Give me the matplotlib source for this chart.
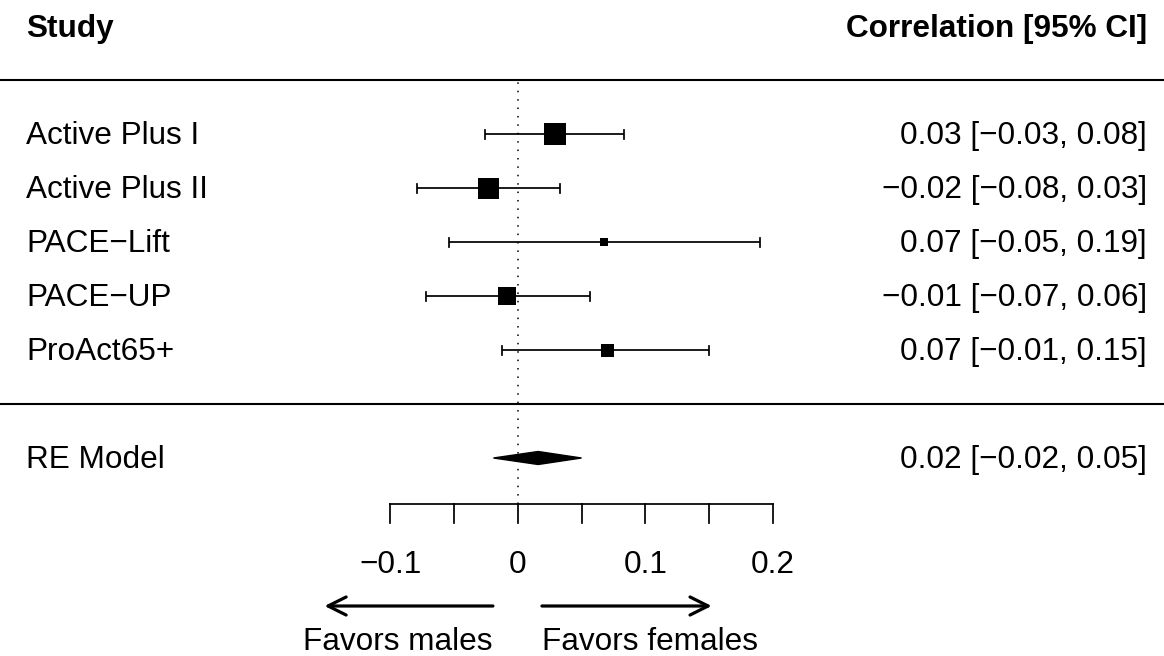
import matplotlib
matplotlib.use("Agg")
import matplotlib.pyplot as plt
from matplotlib.patches import Polygon

plt.rcParams['font.family'] = ['Liberation Sans', 'DejaVu Sans']

# ---- data ----
studies = ["Active Plus I", "Active Plus II", "PACE\u2212Lift", "PACE\u2212UP", "ProAct65+"]
estimates = [0.029, -0.023, 0.068, -0.008, 0.070]
ci_lower = [-0.026, -0.079, -0.054, -0.072, -0.012]
ci_upper = [0.083, 0.033, 0.190, 0.057, 0.150]
re_label = "RE Model"
re_est = 0.016
re_lower = -0.019
re_upper = 0.050
tick_values = [-0.1, -0.05, 0.0, 0.05, 0.1, 0.15, 0.2]
tick_labels = ["\u22120.1", "", "0", "", "0.1", "", "0.2"]
header_left = "Study"
header_right = "Correlation [95% CI]"
arrow_left_text = "Favors males"
arrow_right_text = "Favors females"

# ---- styles ----
marker_px = [22, 21, 8, 18, 13]
W, H, DPI = 1164, 656, 100
FS = 22.7
LW = 1.25

def fmt(v):
    s = f"{v:.2f}"
    return s.replace("-", "\u2212")

fig = plt.figure(figsize=(W / DPI, H / DPI), dpi=DPI)
ax = fig.add_axes([0, 0, 1, 1])
ax.set_axis_off()
px_per_unit = 1276.0
x0px = 517.7
ax.set_xlim(-x0px / px_per_unit, (W - x0px) / px_per_unit)
row_px = 54.0
ax.set_ylim((404 - H) / row_px, 404 / row_px)

k = len(studies)
rows = list(range(k, 0, -1))
xl, xr = ax.get_xlim()
text_left = xl + 26 / px_per_unit
text_right = xr - 17 / px_per_unit
bl = 10.0 / row_px   # baseline offset below row centre

# horizontal rules
ax.axhline(k + 1, color="black", lw=1.5)
ax.axhline(0, color="black", lw=1.5)

# reference line
axis_y = -1.852
ax.plot([0, 0], [axis_y, k + 1], color="black", lw=1.1, linestyle=(0, (1, 4.5)))

cap = 4.5 / row_px
for r, name, e, lo, hi, m in zip(rows, studies, estimates, ci_lower, ci_upper, marker_px):
    ax.plot([lo, hi], [r, r], color="black", lw=LW, solid_capstyle="butt")
    ax.plot([lo, lo], [r - cap, r + cap], color="black", lw=LW)
    ax.plot([hi, hi], [r - cap, r + cap], color="black", lw=LW)
    ax.plot([e], [r], marker="s", markersize=m * 72 / DPI, color="black", markeredgewidth=0)
    ax.text(text_left, r - bl, name, ha="left", va="baseline", fontsize=FS)
    ax.text(text_right, r - bl, f"{fmt(e)} [{fmt(lo)}, {fmt(hi)}]", ha="right", va="baseline", fontsize=FS)

# summary diamond
re_row = -1
dh = 6.5 / row_px
ax.add_patch(Polygon([[re_lower, re_row], [re_est, re_row + dh], [re_upper, re_row], [re_est, re_row - dh]],
                     closed=True, facecolor="black", edgecolor="black", lw=1))
ax.text(text_left, re_row - bl, re_label, ha="left", va="baseline", fontsize=FS)
ax.text(text_right, re_row - bl, f"{fmt(re_est)} [{fmt(re_lower)}, {fmt(re_upper)}]",
        ha="right", va="baseline", fontsize=FS)

# headers
hb = 11.0 / row_px
ax.text(text_left, k + 2 - hb, header_left, ha="left", va="baseline", fontsize=FS, fontweight="bold")
ax.text(text_right, k + 2 - hb, header_right, ha="right", va="baseline", fontsize=FS, fontweight="bold")

# x axis
ax.plot([tick_values[0], tick_values[-1]], [axis_y, axis_y], color="black", lw=LW)
tick_len = 19 / row_px
tick_base = (404 - 573) / row_px
for tv, tl in zip(tick_values, tick_labels):
    ax.plot([tv, tv], [axis_y, axis_y - tick_len], color="black", lw=LW)
    if tl:
        ax.text(tv, tick_base, tl, ha="center", va="baseline", fontsize=FS)

# arrows
arrow_y = (404 - 606) / row_px
aprops = dict(arrowstyle="->,head_length=1.3,head_width=0.65", lw=2.3, color="black",
              shrinkA=0, shrinkB=0)
ax.annotate("", xy=(-0.1514, arrow_y), xytext=(-0.0194, arrow_y), arrowprops=aprops)
ax.annotate("", xy=(0.152, arrow_y), xytext=(0.019, arrow_y), arrowprops=aprops)
lab_base = (404 - 650) / row_px
ax.text(-0.0194, lab_base, arrow_left_text, ha="right", va="baseline", fontsize=FS)
ax.text(0.019, lab_base, arrow_right_text, ha="left", va="baseline", fontsize=FS)

fig.savefig("out.png", dpi=DPI)
